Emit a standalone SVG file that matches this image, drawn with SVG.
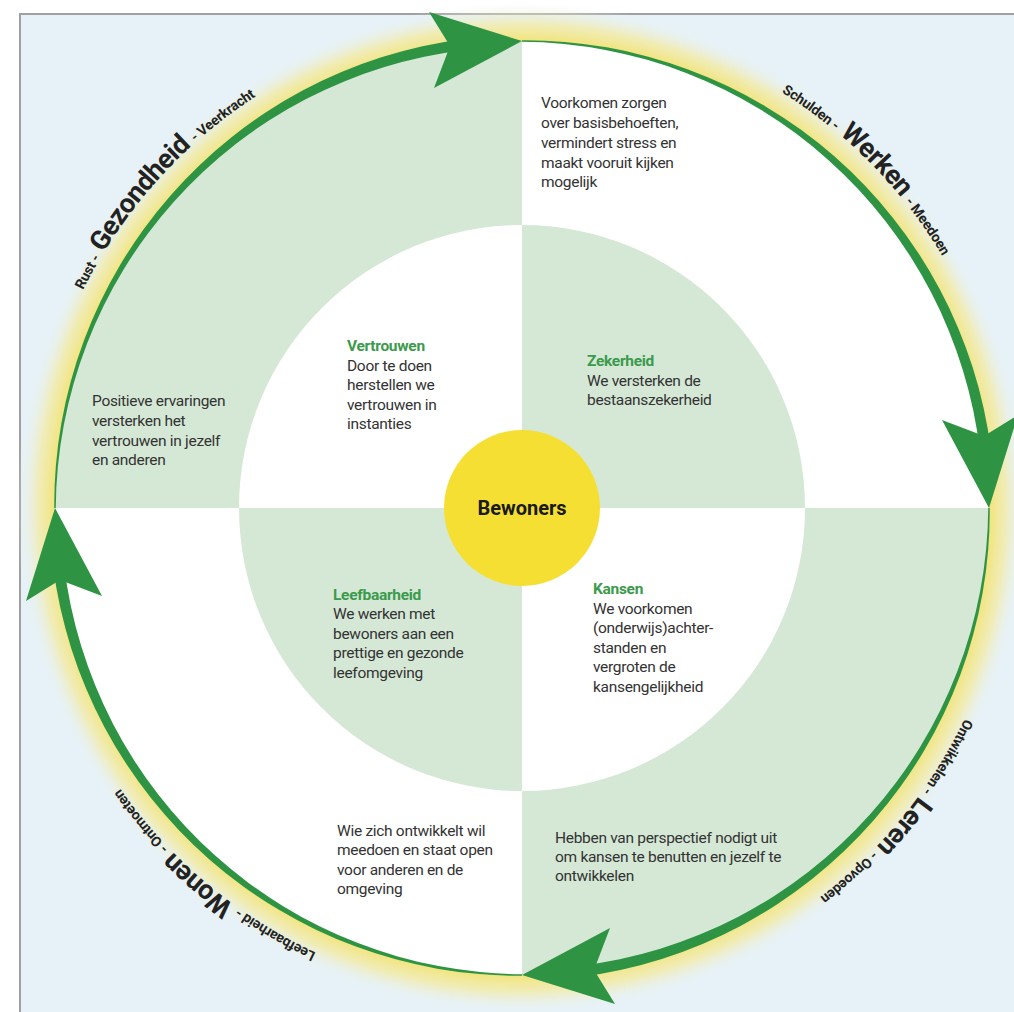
<svg xmlns="http://www.w3.org/2000/svg" width="1014" height="1012" viewBox="0 0 1014 1012">
<defs>
<style>
.body{font-family:Roboto,"Noto Sans","Liberation Sans",sans-serif;font-size:15.5px;fill:#333;letter-spacing:-0.3px}
.title{font-weight:bold;fill:#3b9a4b}
.ring{font-family:Roboto,"Liberation Sans",sans-serif;font-weight:bold;fill:#222;font-size:14px;letter-spacing:-0.2px}
.big{font-size:27px;letter-spacing:-0.6px}
.green{fill:#d5e8d6}
.white{fill:#ffffff}
.arrow{fill:#2e9443}
</style>
<radialGradient id="glow" gradientUnits="userSpaceOnUse" cx="522" cy="508" r="506">
<stop offset="0.92" stop-color="#f2e374"/>
<stop offset="0.955" stop-color="#f3eaa0" stop-opacity="0.75"/>
<stop offset="1" stop-color="#e7f2f8" stop-opacity="0"/>
</radialGradient>
<path id="ringPath" d="M 32 508 A 490 490 0 1 1 1012 508 A 490 490 0 1 1 32 508"/>
<g id="arrowQ" class="arrow">
<path d="M -467.75 0 A 469.59 469.59 0 0 1 -57.59 -469.02 L -56.24 -458.02 A 464.41 464.41 0 0 0 -466.25 0 Z"/>
<path d="M 0 -467 L -93 -496 L -72 -462 L -88 -420 Z"/>
</g>
</defs>

<rect x="0" y="0" width="1014" height="1012" fill="#ffffff"/>
<rect x="20" y="14" width="1010" height="1010" fill="#e7f2f8" stroke="#a0a0a0" stroke-width="2"/>
<circle cx="522" cy="508" r="506" fill="url(#glow)"/>

<g id="outer-gezondheid">
<path class="green" d="M522 508 L55 508 A467 467 0 0 1 522 41 Z"/>
<text class="body"><tspan x="92" y="406">Positieve ervaringen</tspan><tspan x="92" y="426">versterken het</tspan><tspan x="92" y="446">vertrouwen in jezelf</tspan><tspan x="92" y="465">en anderen</tspan></text>
</g>
<g id="outer-werken">
<path class="white" d="M522 508 L522 41 A467 467 0 0 1 989 508 Z"/>
<text class="body"><tspan x="541" y="108">Voorkomen zorgen</tspan><tspan x="541" y="128">over basisbehoeften,</tspan><tspan x="541" y="148">vermindert stress en</tspan><tspan x="541" y="168">maakt vooruit kijken</tspan><tspan x="541" y="187">mogelijk</tspan></text>
</g>
<g id="outer-leren">
<path class="green" d="M522 508 L989 508 A467 467 0 0 1 522 975 Z"/>
<text class="body"><tspan x="555" y="843">Hebben van perspectief nodigt uit</tspan><tspan x="555" y="862">om kansen te benutten en jezelf te</tspan><tspan x="555" y="881">ontwikkelen</tspan></text>
</g>
<g id="outer-wonen">
<path class="white" d="M522 508 L522 975 A467 467 0 0 1 55 508 Z"/>
<text class="body"><tspan x="337" y="836">Wie zich ontwikkelt wil</tspan><tspan x="337" y="855">meedoen en staat open</tspan><tspan x="337" y="875">voor anderen en de</tspan><tspan x="337" y="894">omgeving</tspan></text>
</g>

<g id="vertrouwen">
<path class="white" d="M522 508 L239 508 A283 283 0 0 1 522 225 Z"/>
<text class="body"><tspan class="title" x="347" y="351">Vertrouwen</tspan><tspan x="347" y="371">Door te doen</tspan><tspan x="347" y="390">herstellen we</tspan><tspan x="347" y="410">vertrouwen in</tspan><tspan x="347" y="429">instanties</tspan></text>
</g>
<g id="zekerheid">
<path class="green" d="M522 508 L522 225 A283 283 0 0 1 805 508 Z"/>
<text class="body"><tspan class="title" x="587" y="366">Zekerheid</tspan><tspan x="587" y="386">We versterken de</tspan><tspan x="587" y="405">bestaanszekerheid</tspan></text>
</g>
<g id="kansen">
<path class="white" d="M522 508 L805 508 A283 283 0 0 1 522 791 Z"/>
<text class="body"><tspan class="title" x="593" y="594">Kansen</tspan><tspan x="593" y="614">We voorkomen</tspan><tspan x="593" y="633">(onderwijs)achter-</tspan><tspan x="593" y="653">standen en</tspan><tspan x="593" y="672">vergroten de</tspan><tspan x="593" y="692">kansengelijkheid</tspan></text>
</g>
<g id="leefbaarheid">
<path class="green" d="M522 508 L522 791 A283 283 0 0 1 239 508 Z"/>
<text class="body"><tspan class="title" x="333" y="600">Leefbaarheid</tspan><tspan x="333" y="619">We werken met</tspan><tspan x="333" y="639">bewoners aan een</tspan><tspan x="333" y="658">prettige en gezonde</tspan><tspan x="333" y="678">leefomgeving</tspan></text>
</g>

<g id="bewoners">
<circle cx="522" cy="508" r="78" fill="#f5df32"/>
<text x="522" y="515" text-anchor="middle" font-family="Roboto,'Liberation Sans',sans-serif" font-weight="bold" font-size="20" fill="#1a1a1a">Bewoners</text>
</g>

<g id="ring-labels">
<text class="ring"><textPath href="#ringPath" startOffset="357" text-anchor="middle">Rust -<tspan class="big" dx="6">Gezondheid</tspan><tspan dx="6">- Veerkracht</tspan></textPath></text>
<text class="ring"><textPath href="#ringPath" startOffset="1159" text-anchor="middle">Schulden -<tspan class="big" dx="6">Werken</tspan><tspan dx="6">- Meedoen</tspan></textPath></text>
<text class="ring"><textPath href="#ringPath" startOffset="1873" text-anchor="middle">Ontwikkelen -<tspan class="big" dx="6">Leren</tspan><tspan dx="6">- Opvoeden</tspan></textPath></text>
<text class="ring"><textPath href="#ringPath" startOffset="2651" text-anchor="middle">Leefbaarheid -<tspan class="big" dx="6">Wonen</tspan><tspan dx="6">- Ontmoeten</tspan></textPath></text>
</g>

<g id="connectors">
<use href="#arrowQ" transform="translate(522 508)"/>
<use href="#arrowQ" transform="translate(522 508) rotate(90)"/>
<use href="#arrowQ" transform="translate(522 508) rotate(180)"/>
<use href="#arrowQ" transform="translate(522 508) rotate(270)"/>
</g>
</svg>
